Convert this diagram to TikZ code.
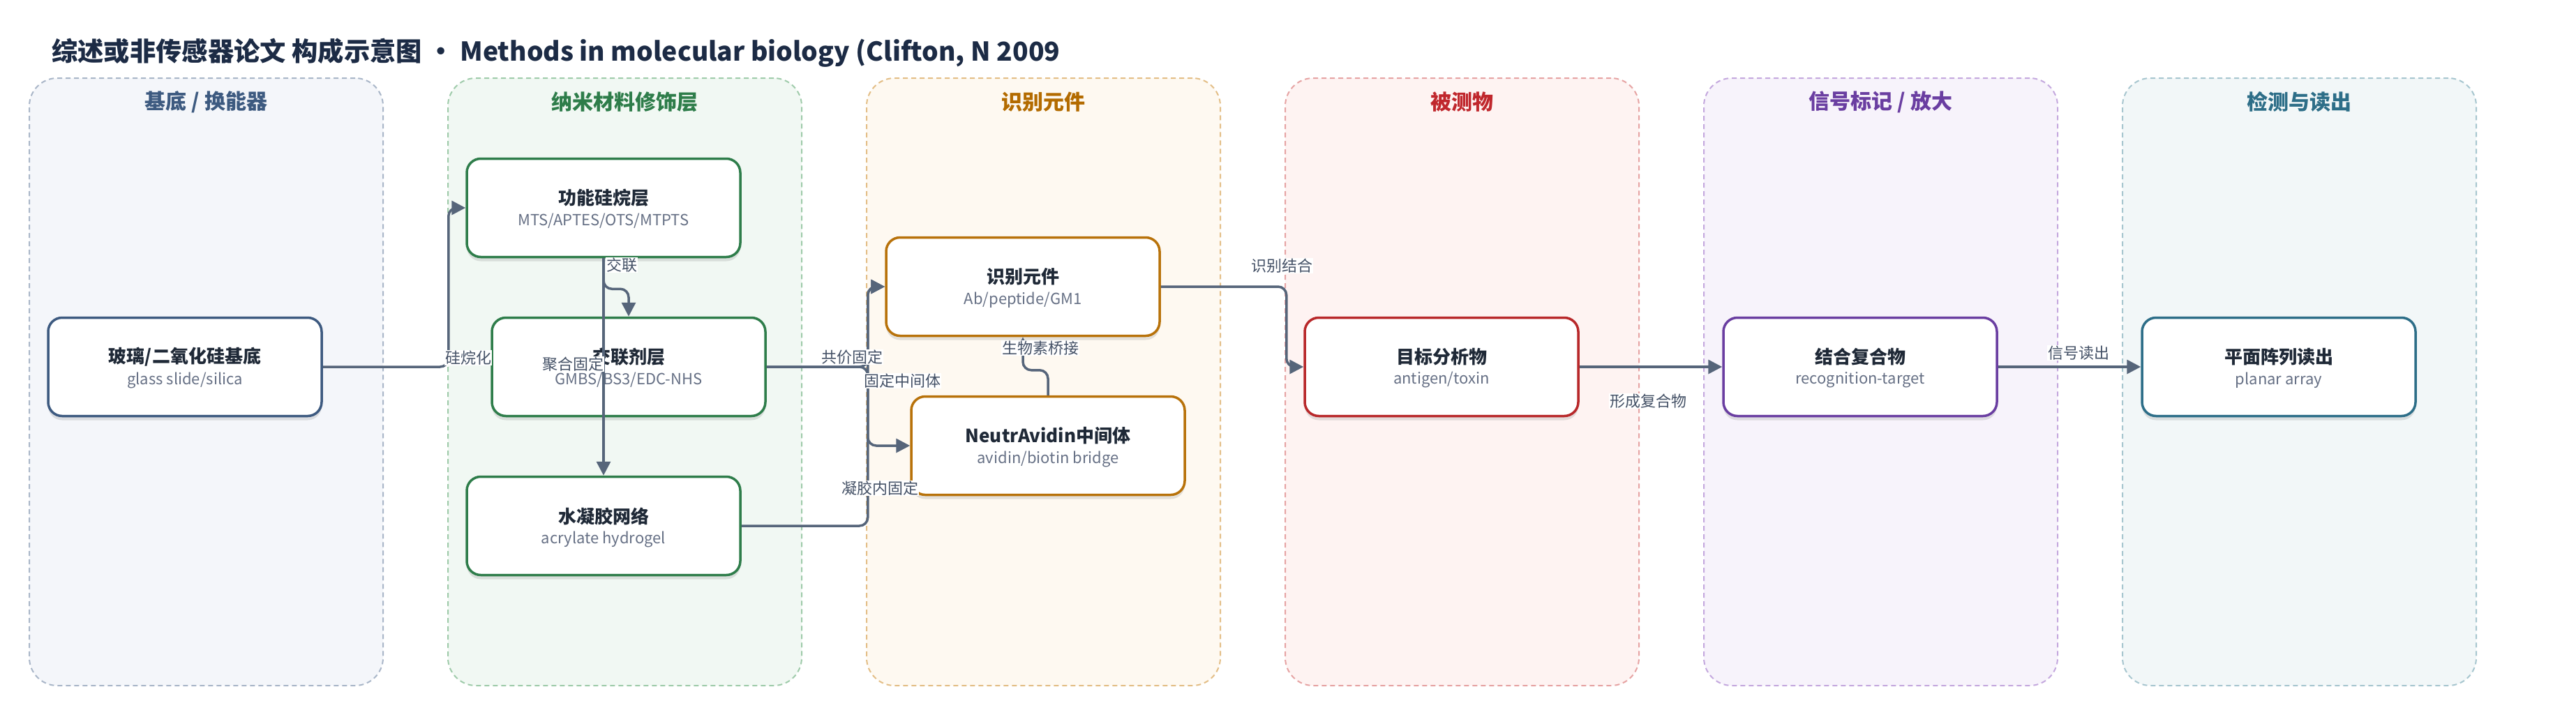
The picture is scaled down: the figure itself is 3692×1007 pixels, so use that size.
\documentclass[tikz,border=0pt]{standalone}
\usepackage{fontspec}
\setmainfont{Noto Sans CJK SC}
\usetikzlibrary{arrows.meta,shadows}
\definecolor{lAf}{HTML}{F4F6FA}\definecolor{lAd}{HTML}{A9B6C8}\definecolor{lAt}{HTML}{3D5A80}
\definecolor{lBf}{HTML}{F1F8F3}\definecolor{lBd}{HTML}{9FCBAA}\definecolor{lBt}{HTML}{2E7D4A}
\definecolor{lCf}{HTML}{FEF9F1}\definecolor{lCd}{HTML}{E3BE86}\definecolor{lCt}{HTML}{B36B00}
\definecolor{lDf}{HTML}{FEF3F2}\definecolor{lDd}{HTML}{E6A3A3}\definecolor{lDt}{HTML}{C0272D}
\definecolor{lEf}{HTML}{F7F3FB}\definecolor{lEd}{HTML}{C4A8DE}\definecolor{lEt}{HTML}{6A3EA1}
\definecolor{lFf}{HTML}{F2F7F8}\definecolor{lFd}{HTML}{A7C6CF}\definecolor{lFt}{HTML}{2D6E88}
\definecolor{bA}{HTML}{3D5A80}\definecolor{bB}{HTML}{2E7D4A}\definecolor{bC}{HTML}{B8720A}
\definecolor{bD}{HTML}{B8282A}\definecolor{bE}{HTML}{6A3EA1}\definecolor{bF}{HTML}{2D6E88}
\definecolor{ink}{HTML}{1F2937}\definecolor{subc}{HTML}{667085}
\definecolor{titlec}{HTML}{1C2B45}\definecolor{edgec}{HTML}{56657A}\definecolor{labc}{HTML}{445166}
\newcommand\mybox[6]{%
  \node[nodebox, draw=#4] (#1) at (#2,#3) {};
  \node[ttl] (#1-t) at (#2,#3-14) {#5};
  \node[subt] (#1-s) at (#2,#3+19) {#6};
}
\begin{document}
\begin{tikzpicture}[x=1pt,y=-1pt,
  lane/.style={rectangle, minimum width=507pt, minimum height=871pt, rounded corners=40pt,
    dash pattern=on 7pt off 5pt, line width=2pt, inner sep=0pt},
  lanettl/.style={font={\fontsize{30}{34}\selectfont\bfseries}, inner sep=0pt},
  nodebox/.style={rectangle, minimum width=392pt, minimum height=141pt, rounded corners=20pt,
    line width=3.5pt, fill=white, inner sep=0pt,
    drop shadow={shadow xshift=0pt, shadow yshift=-6pt, opacity=0.15, fill=black!70}},
  ttl/.style={font={\fontsize{26}{30}\selectfont\bfseries}, text=ink, inner sep=0pt},
  subt/.style={font={\fontsize{22}{26}\selectfont}, text=subc, inner sep=0pt},
  edge/.style={draw=edgec, line width=3.5pt, rounded corners=12pt,
    -{Triangle[length=20pt,width=20pt]}},
  elabel/.style={fill=white, text=labc, font={\fontsize{22}{26}\selectfont}, inner sep=1pt}
]
\useasboundingbox (0,0) rectangle (3692,1007);
\fill[white] (0,0) rectangle (3692,1007);

\node[anchor=west, text=titlec, font={\fontsize{37.3}{44}\selectfont\bfseries}, inner sep=0pt]
  (title) at (74,76) {综述或非传感器论文 构成示意图 · Methods in molecular biology (Clifton, N 2009};

\node[lane, fill=lAf, draw=lAd] (lane1) at (295.5,547.5) {};
\node[lane, fill=lBf, draw=lBd] (lane2) at (895.5,547.5) {};
\node[lane, fill=lCf, draw=lCd] (lane3) at (1495.5,547.5) {};
\node[lane, fill=lDf, draw=lDd] (lane4) at (2095.5,547.5) {};
\node[lane, fill=lEf, draw=lEd] (lane5) at (2695.5,547.5) {};
\node[lane, fill=lFf, draw=lFd] (lane6) at (3295.5,547.5) {};
\node[lanettl, text=lAt] (lane1-t) at (295.5,146) {基底 / 换能器};
\node[lanettl, text=lBt] (lane2-t) at (895.5,146) {纳米材料修饰层};
\node[lanettl, text=lCt] (lane3-t) at (1495.5,146) {识别元件};
\node[lanettl, text=lDt] (lane4-t) at (2095.5,146) {被测物};
\node[lanettl, text=lEt] (lane5-t) at (2695.5,146) {信号标记 / 放大};
\node[lanettl, text=lFt] (lane6-t) at (3295.5,146) {检测与读出};

\mybox{glass}{265}{526}{bA}{玻璃/二氧化硅基底}{glass slide/silica}
\mybox{silane}{865}{298}{bB}{功能硅烷层}{MTS/APTES/OTS/MTPTS}
\mybox{cross}{901}{526}{bB}{交联剂层}{GMBS/BS3/EDC-NHS}
\mybox{gel}{865}{754}{bB}{水凝胶网络}{acrylate hydrogel}
\mybox{recog}{1466}{411}{bC}{识别元件}{Ab/peptide/GM1}
\mybox{avidin}{1502}{639}{bC}{NeutrAvidin中间体}{avidin/biotin bridge}
\mybox{target}{2066}{526}{bD}{目标分析物}{antigen/toxin}
\mybox{complex}{2666}{526}{bE}{结合复合物}{recognition-target}
\mybox{readout}{3266}{526}{bF}{平面阵列读出}{planar array}

\draw[edge] (glass.east) -- ++(180,0) |- (silane.west);
\draw[edge] (silane.south) -- ++(0,44) -| (cross.north);
\draw[edge] (silane.south) -- (gel.north);
\draw[edge] (cross.east) -- ++(145,0) |- (recog.west);
\draw[edge] (cross.east) -- ++(145,0) |- (avidin.west);
\draw[edge] (gel.east) -- ++(181,0) |- (recog.west);
\draw[edge] (avidin.north) -- ++(0,-36) -| (recog.south);
\draw[edge] (recog.east) -- ++(180,0) |- (target.west);
\draw[edge] (target.east) -- (complex.west);
\draw[edge] (complex.east) -- (readout.west);

\node[elabel] (l1) at (671,513) {硅烷化};
\node[elabel] (l2) at (891,380) {交联};
\node[elabel] (l3) at (821,522) {聚合固定};
\node[elabel] (l4) at (1221,512) {共价固定};
\node[elabel] (l5) at (1293,546) {固定中间体};
\node[elabel] (l6) at (1261,700) {凝胶内固定};
\node[elabel] (l7) at (1491,499) {生物素桥接};
\node[elabel] (l8) at (1837,381) {识别结合};
\node[elabel] (l9) at (2362,575) {形成复合物};
\node[elabel] (l10) at (2979,506) {信号读出};
\end{tikzpicture}
\end{document}
